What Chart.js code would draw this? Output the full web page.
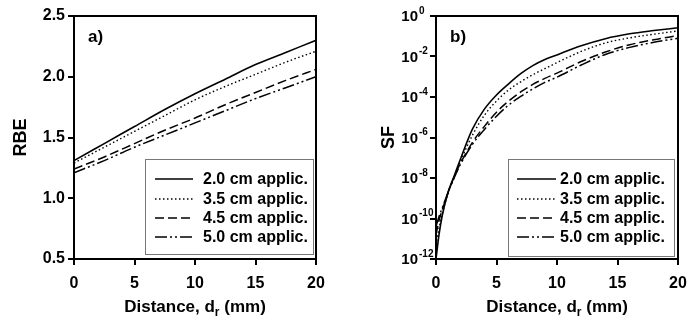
<!DOCTYPE html>
<html>
<head>
<meta charset="utf-8">
<script src="https://cdn.jsdelivr.net/npm/chart.js@4.4.1/dist/chart.umd.min.js"></script>
<style>
  body { margin: 0; background: #fff; }
  .panel { position: absolute; top: 0; }
</style>
</head>
<body>
<div class="panel" style="left:0"><canvas id="chartA" width="350" height="323"></canvas></div>
<div class="panel" style="left:350px"><canvas id="chartB" width="350" height="323"></canvas></div>
<script>
// panel a) RBE vs distance
const distA = [0, 2.5, 5, 7.5, 10, 12.5, 15, 17.5, 20];
const rbe20 = [1.31, 1.45, 1.59, 1.73, 1.86, 1.98, 2.10, 2.20, 2.30];
const rbe35 = [1.29, 1.42, 1.55, 1.68, 1.81, 1.92, 2.02, 2.12, 2.21];
const rbe45 = [1.24, 1.34, 1.45, 1.56, 1.66, 1.77, 1.87, 1.97, 2.06];
const rbe50 = [1.21, 1.31, 1.42, 1.52, 1.62, 1.72, 1.82, 1.91, 2.00];

// panel b) surviving fraction, stored as powers of ten
const distB = [0, 0.25, 0.5, 1, 1.5, 2, 3, 4, 5, 6, 7, 8, 9, 10, 12, 14, 16, 18, 20];
const sfExp20 = [-12, -10.8, -9.9, -8.7, -7.9, -7.1, -5.6, -4.6, -3.9, -3.35, -2.85, -2.45, -2.15, -1.92, -1.47, -1.12, -0.88, -0.72, -0.58];
const sfExp35 = [-11.3, -10.5, -9.8, -8.75, -7.95, -7.2, -5.9, -4.9, -4.2, -3.65, -3.25, -2.9, -2.6, -2.3, -1.75, -1.33, -1.08, -0.9, -0.74];
const sfExp45 = [-10.8, -10.1, -9.6, -8.7, -7.95, -7.3, -6.25, -5.45, -4.75, -4.2, -3.75, -3.38, -3.08, -2.82, -2.25, -1.78, -1.42, -1.17, -0.97];
const sfExp50 = [-10.4, -9.9, -9.5, -8.7, -8.0, -7.35, -6.35, -5.6, -4.95, -4.4, -3.97, -3.6, -3.28, -3.02, -2.42, -1.9, -1.55, -1.3, -1.1];

const seriesLabels = ['2.0 cm applic.', '3.5 cm applic.', '4.5 cm applic.', '5.0 cm applic.'];
const xTicks = [0, 5, 10, 15, 20];
const sfTickExps = [0, -2, -4, -6, -8, -10, -12];

const FONT = '"Liberation Sans", Arial, Helvetica, sans-serif';
const dashes = [[], [1.5, 2.5], [9, 4], [12, 3, 2, 3, 2, 3]];
const widths = [1.6, 1.4, 1.5, 1.5];

function makeSets(xs, ys, toVal) {
  return ys.map((arr, i) => ({
    label: seriesLabels[i],
    data: arr.map((v, j) => ({ x: xs[j], y: toVal ? toVal(v) : v })),
    borderColor: '#000',
    borderWidth: widths[i],
    borderDash: dashes[i],
    pointRadius: 0,
    fill: false,
    cubicInterpolationMode: 'monotone'
  }));
}

// frame, titles, panel letter and the boxed legend
const decoPlugin = {
  id: 'deco',
  afterDraw(chart, args, opts) {
    const ctx = chart.ctx;
    const a = chart.chartArea;
    ctx.save();
    ctx.strokeStyle = '#000';
    ctx.lineWidth = 2;
    ctx.strokeRect(a.left, a.top, a.right - a.left, a.bottom - a.top);

    // panel letter
    ctx.fillStyle = '#000';
    ctx.font = 'bold 17px ' + FONT;
    ctx.textBaseline = 'middle';
    ctx.textAlign = 'left';
    ctx.fillText(opts.letter, a.left + 14, 37);

    // y title
    ctx.save();
    ctx.translate(opts.yTitleX, (a.top + a.bottom) / 2);
    ctx.rotate(-Math.PI / 2);
    ctx.textAlign = 'center';
    ctx.font = 'bold 18px ' + FONT;
    ctx.fillText(opts.yTitle, 0, 0);
    ctx.restore();

    // x title with subscript r
    const cx = (a.left + a.right) / 2;
    const ty = 306;
    ctx.font = 'bold 17px ' + FONT;
    const p1 = 'Distance, d', p3 = ' (mm)';
    const w1 = ctx.measureText(p1).width;
    const w3 = ctx.measureText(p3).width;
    ctx.font = 'bold 12px ' + FONT;
    const w2 = ctx.measureText('r').width;
    let x0 = cx - (w1 + w2 + w3) / 2;
    ctx.textAlign = 'left';
    ctx.textBaseline = 'alphabetic';
    ctx.font = 'bold 17px ' + FONT;
    ctx.fillText(p1, x0, ty + 6);
    ctx.font = 'bold 12px ' + FONT;
    ctx.fillText('r', x0 + w1, ty + 10);
    ctx.font = 'bold 17px ' + FONT;
    ctx.fillText(p3, x0 + w1 + w2, ty + 6);

    // log tick labels 10^n
    if (opts.logTicks) {
      const ys = chart.scales.y;
      sfTickExps.forEach(e => {
        const py = ys.getPixelForValue(Math.pow(10, e));
        ctx.font = 'bold 15px ' + FONT;
        ctx.textAlign = 'right';
        ctx.textBaseline = 'middle';
        ctx.fillText('10', opts.logLabelX, py + 1);
        ctx.font = 'bold 10px ' + FONT;
        ctx.textAlign = 'left';
        ctx.fillText(e === 0 ? '0' : '-' + Math.abs(e), opts.logLabelX + 1, py - 5);
      });
    }

    // legend box
    const lg = opts.legend;
    ctx.fillStyle = '#fff';
    ctx.fillRect(lg.left, lg.top, lg.right - lg.left, lg.bottom - lg.top);
    ctx.strokeStyle = '#777';
    ctx.lineWidth = 1;
    ctx.strokeRect(lg.left + 0.5, lg.top + 0.5, lg.right - lg.left, lg.bottom - lg.top);
    chart.data.datasets.forEach((ds, i) => {
      const ry = lg.rows[i];
      ctx.strokeStyle = '#000';
      ctx.lineWidth = ds.borderWidth;
      ctx.setLineDash(ds.borderDash);
      ctx.beginPath();
      ctx.moveTo(lg.lineX1, ry);
      ctx.lineTo(lg.lineX2, ry);
      ctx.stroke();
      ctx.setLineDash([]);
      ctx.fillStyle = '#000';
      ctx.font = 'bold 16px ' + FONT;
      ctx.textAlign = 'left';
      ctx.textBaseline = 'middle';
      ctx.fillText(ds.label, lg.textX, ry + 1);
    });
    ctx.restore();
  }
};

function xScale() {
  return {
    type: 'linear', min: 0, max: 20,
    afterBuildTicks: s => { s.ticks = xTicks.map(v => ({ value: v })); },
    ticks: { color: '#000', font: { family: FONT, size: 16, weight: 'bold' }, padding: 9, maxRotation: 0 },
    grid: { drawOnChartArea: false, drawTicks: true, tickLength: 6, color: '#000', lineWidth: 2 },
    border: { display: true, color: '#000', width: 2 },
    afterFit: s => { s.height = 64; }
  };
}

new Chart(document.getElementById('chartA'), {
  type: 'line',
  data: { datasets: makeSets(distA, [rbe20, rbe35, rbe45, rbe50]) },
  options: {
    responsive: false,
    animation: false,
    layout: { padding: { left: 0, right: 34, top: 16, bottom: 0 } },
    plugins: {
      legend: { display: false },
      tooltip: { enabled: false },
      deco: {
        letter: 'a)', yTitle: 'RBE', yTitleX: 21,
        legend: { left: 145, top: 159, right: 313, bottom: 254, lineX1: 155, lineX2: 193, textX: 203, rows: [179, 199, 218, 237] }
      }
    },
    scales: {
      x: xScale(),
      y: {
        type: 'linear', min: 0.5, max: 2.5,
        ticks: { stepSize: 0.5, color: '#000', font: { family: FONT, size: 16, weight: 'bold' }, padding: 3,
                 callback: v => v.toFixed(1) },
        grid: { drawOnChartArea: false, drawTicks: true, tickLength: 6, color: '#000', lineWidth: 2 },
        border: { display: true, color: '#000', width: 2 },
        afterFit: s => { s.width = 74; }
      }
    }
  },
  plugins: [decoPlugin]
});

new Chart(document.getElementById('chartB'), {
  type: 'line',
  data: { datasets: makeSets(distB, [sfExp20, sfExp35, sfExp45, sfExp50], e => Math.pow(10, e)) },
  options: {
    responsive: false,
    animation: false,
    layout: { padding: { left: 0, right: 22, top: 16, bottom: 0 } },
    plugins: {
      legend: { display: false },
      tooltip: { enabled: false },
      deco: {
        letter: 'b)', yTitle: 'SF', yTitleX: 39, logTicks: true, logLabelX: 68,
        legend: { left: 158, top: 159, right: 324, bottom: 256, lineX1: 167, lineX2: 206, textX: 210, rows: [179, 199, 218, 237] }
      }
    },
    scales: {
      x: xScale(),
      y: {
        type: 'logarithmic', min: 1e-12, max: 1,
        afterBuildTicks: s => { s.ticks = sfTickExps.map(e => ({ value: Math.pow(10, e) })); },
        ticks: { display: false },
        grid: { drawOnChartArea: false, drawTicks: true, tickLength: 6, color: '#000', lineWidth: 2 },
        border: { display: true, color: '#000', width: 2 },
        afterFit: s => { s.width = 86; }
      }
    }
  },
  plugins: [decoPlugin]
});
</script>
</body>
</html>
